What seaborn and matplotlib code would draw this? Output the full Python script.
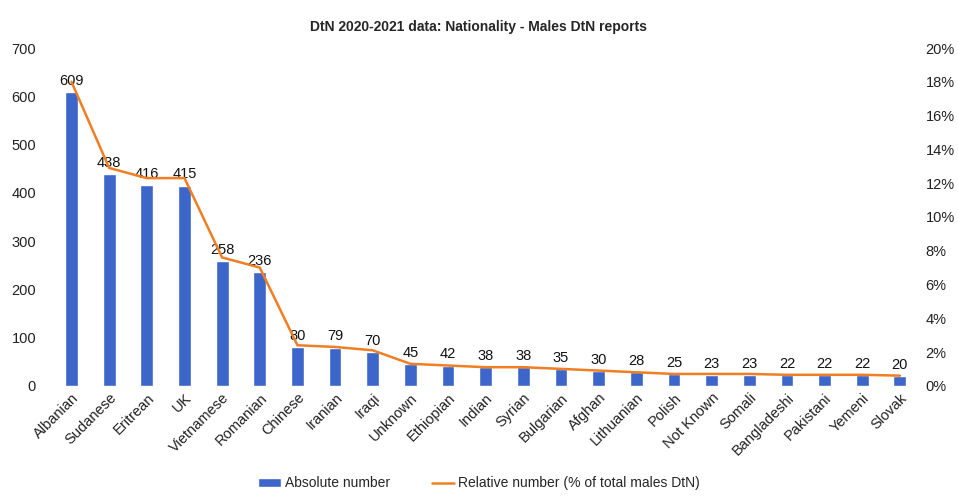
import numpy as np
import matplotlib
matplotlib.use("Agg")
import matplotlib.pyplot as plt
from matplotlib.ticker import PercentFormatter
import seaborn as sns

sns.set_style("white")
plt.rcParams['font.family'] = ['Liberation Sans', 'DejaVu Sans']

# data
nationalities = ["Albanian", "Sudanese", "Eritrean", "UK", "Vietnamese", "Romanian",
                 "Chinese", "Iranian", "Iraqi", "Unknown", "Ethiopian", "Indian",
                 "Syrian", "Bulgarian", "Afghan", "Lithuanian", "Polish", "Not Known",
                 "Somali", "Bangladeshi", "Pakistani", "Yemeni", "Slovak"]
absolute = [609, 438, 416, 415, 258, 236, 80, 79, 70, 45, 42, 38, 38, 35, 30, 28,
            25, 23, 23, 22, 22, 22, 20]
relative = [18.0, 12.9, 12.3, 12.3, 7.6, 7.0, 2.4, 2.3, 2.1, 1.3, 1.2, 1.1, 1.1,
            1.0, 0.9, 0.8, 0.7, 0.7, 0.7, 0.65, 0.65, 0.65, 0.6]

bar_col = "#3C66C9"
line_col = "#F07E22"

fig = plt.figure(figsize=(9.58, 5.01), dpi=100)
ax = fig.add_axes([0.055, 0.23, 0.904, 0.674])

sns.barplot(x=nationalities, y=absolute, color=bar_col, width=0.34, ax=ax,
            label="Absolute number", saturation=1)
ax.set_ylim(0, 700)
ax.set_yticks(range(0, 701, 100))
ax.set_xlim(-0.5, len(nationalities) - 0.5)

for i, v in enumerate(absolute):
    ax.annotate(str(v), (i, v), xytext=(0, 3), textcoords="offset points",
                ha="center", va="bottom", fontsize=10.5, color="#111111")

ax2 = ax.twinx()
sns.lineplot(x=np.arange(len(relative)), y=relative, ax=ax2, color=line_col,
             linewidth=1.8, sort=False, label="Relative number (% of total males DtN)")
ax2.set_ylim(0, 20)
ax2.set_yticks(range(0, 21, 2))
ax2.yaxis.set_major_formatter(PercentFormatter(decimals=0))
ax2.set_xlim(-0.5, len(nationalities) - 0.5)

for a in (ax, ax2):
    for s in a.spines.values():
        s.set_visible(False)
    a.tick_params(length=0, labelsize=10.5, colors="#222222")
    a.set_ylabel("")
ax.tick_params(axis="y", pad=12)
ax2.tick_params(axis="y", pad=5)
plt.setp(ax.get_xticklabels(), rotation=45, ha="right", rotation_mode="anchor")

h1, l1 = ax.get_legend_handles_labels()
h2, l2 = ax2.get_legend_handles_labels()
if ax.get_legend():
    ax.get_legend().remove()
if ax2.get_legend():
    ax2.get_legend().remove()
fig.legend(h1 + h2, l1 + l2, loc="center", bbox_to_anchor=(0.5, 0.035), ncol=2,
           frameon=False, fontsize=10, handlelength=1.6, handletextpad=0.3,
           columnspacing=3)

fig.suptitle("DtN 2020-2021 data: Nationality - Males DtN reports", y=0.96,
             fontsize=10, fontweight="bold", x=0.5)

fig.savefig("out.png", dpi=100, facecolor="white")
